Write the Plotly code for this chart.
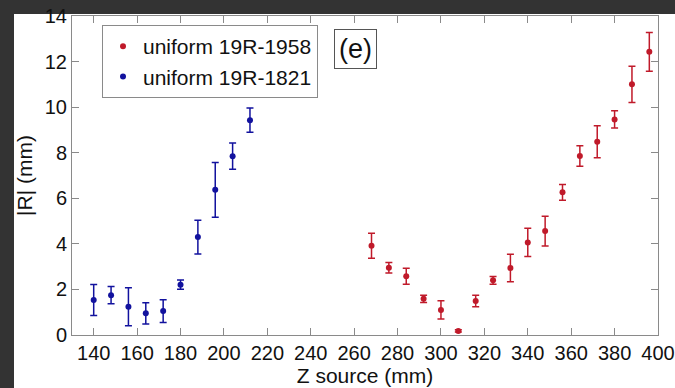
import plotly.graph_objects as go

# Data
z_red = [268, 276, 284, 292, 300, 308, 316, 324, 332, 340, 348, 356, 364, 372, 380, 388, 396]
r_red = [3.92, 2.95, 2.58, 1.59, 1.10, 0.18, 1.49, 2.40, 2.94, 4.06, 4.56, 6.26, 7.86, 8.48, 9.46, 11.0, 12.43]
e_red = [0.55, 0.23, 0.35, 0.16, 0.40, 0.05, 0.25, 0.17, 0.60, 0.62, 0.65, 0.35, 0.45, 0.70, 0.38, 0.80, 0.85]

z_blue = [140, 148, 156, 164, 172, 180, 188, 196, 204, 212]
r_blue = [1.54, 1.75, 1.24, 0.95, 1.05, 2.21, 4.30, 6.37, 7.85, 9.43]
e_blue = [0.68, 0.38, 0.83, 0.47, 0.50, 0.20, 0.74, 1.20, 0.58, 0.53]

x_ticks = list(range(140, 401, 20))
y_ticks = list(range(0, 15, 2))

RED = "#c01a2a"
BLUE = "#12129e"
FONT = "Liberation Sans, Arial, sans-serif"

fig = go.Figure()
fig.add_trace(go.Scatter(
    x=z_red, y=r_red, mode="markers", name="uniform 19R-1958",
    marker=dict(color=RED, size=6),
    error_y=dict(type="data", array=e_red, color=RED, thickness=1.5, width=3.5),
))
fig.add_trace(go.Scatter(
    x=z_blue, y=r_blue, mode="markers", name="uniform 19R-1821",
    marker=dict(color=BLUE, size=6),
    error_y=dict(type="data", array=e_blue, color=BLUE, thickness=1.5, width=3.5),
))

W, H = 675, 388
L, R, T, B = 72, 17, 16, 53
pw, ph = W - L - R, H - T - B

def px_x(p):
    return (p - L) / pw

def px_y(p):
    return (H - B - p) / ph

axis_common = dict(
    showline=True, linecolor="#8a8a8a", linewidth=1, mirror="ticks",
    ticks="inside", ticklen=7, tickcolor="#8a8a8a", tickwidth=1,
    showgrid=False, zeroline=False, automargin=False,
    tickfont=dict(family=FONT, size=20, color="#111"),
)

fig.update_layout(
    width=W, height=H,
    margin=dict(l=L, r=R, t=T, b=B, autoexpand=False),
    paper_bgcolor="white", plot_bgcolor="white",
    font=dict(family=FONT, color="#111"),
    showlegend=True,
    legend=dict(
        x=px_x(102), y=px_y(25), xanchor="left", yanchor="top",
        bordercolor="#8a8a8a", borderwidth=1, bgcolor="white",
        font=dict(family=FONT, size=21, color="#111"),
        itemwidth=30,
    ),
    xaxis=dict(range=[130, 400], tickvals=x_ticks, **axis_common,
               title=dict(text="Z source (mm)", font=dict(family=FONT, size=21), standoff=2)),
    yaxis=dict(range=[0, 14], tickvals=y_ticks, **axis_common,
               title=dict(text="|R| (mm)", font=dict(family=FONT, size=21), standoff=6)),
    shapes=[
        dict(type="rect", xref="paper", yref="paper", layer="below",
             x0=px_x(0), x1=px_x(W), y0=px_y(0), y1=px_y(14),
             fillcolor="#333333", line=dict(width=0)),
        dict(type="rect", xref="paper", yref="paper", layer="below",
             x0=px_x(0), x1=px_x(14), y0=px_y(0), y1=px_y(H),
             fillcolor="#333333", line=dict(width=0)),
    ],
    annotations=[
        dict(text="(e)", xref="paper", yref="paper",
             x=px_x(355.5), y=px_y(48.5), xanchor="center", yanchor="middle",
             showarrow=False, font=dict(family=FONT, size=27, color="#111"),
             bordercolor="#555", borderwidth=1, borderpad=4, bgcolor="white"),
    ],
)

fig.write_html(
    "out.html",
    config={"displayModeBar": False},
    post_script=(
        "document.documentElement.style.overflow='hidden';"
        "document.body.style.overflow='hidden';"
        "document.body.style.margin='0';"
    ),
)
